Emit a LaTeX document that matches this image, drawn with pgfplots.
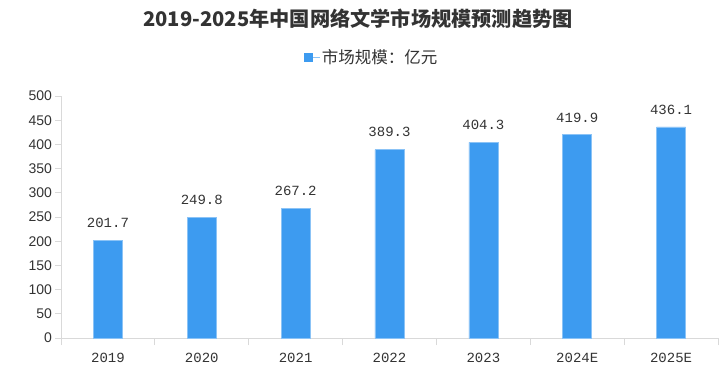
\documentclass[border=0pt]{standalone}
\usepackage{pgfplots}
\pgfplotsset{compat=1.18}
\usepackage{pgfplotstable}
\usepackage{fontspec}
\setmainfont{Noto Sans CJK SC}
\newfontfamily\monofont{Liberation Mono}
\newfontfamily\sansfont{Liberation Sans}
\definecolor{barblue}{HTML}{3D9BF0}
\definecolor{axgray}{HTML}{D9D9D9}
\definecolor{txt}{HTML}{333333}

\pgfplotstableread{
x val
0 201.7
1 249.8
2 267.2
3 389.3
4 404.3
5 419.9
6 436.1
}\datatable

\begin{document}
\begin{tikzpicture}
\useasboundingbox (-61pt,-38pt) rectangle (663pt,338pt);
\begin{axis}[
  at={(0,0)}, anchor=south west,
  scale only axis, width=657pt, height=242pt,
  xmin=-0.5, xmax=6.5, ymin=0, ymax=500,
  axis x line*=bottom, axis y line*=left,
  axis line style={draw=axgray, line width=0.8pt},
  xtick={0,...,6},
  xticklabels={2019,2020,2021,2022,2023,2024E,2025E},
  major x tick style={draw=none},
  minor xtick={-0.5,0.5,...,6.5},
  minor x tick style={draw=axgray, line width=0.8pt},
  minor tick length=7pt,
  ytick={0,50,...,500},
  y tick style={draw=axgray, line width=0.8pt},
  major tick length=5.5pt,
  tick align=outside,
  xtick pos=bottom, ytick pos=left,
  /pgf/number format/assume math mode=true,
  xticklabel style={font=\monofont\fontsize{14}{14}\selectfont, text=txt, yshift=-6pt},
  yticklabel style={font=\sansfont\fontsize{14}{14}\selectfont, text=txt},
  bar width=0.31,
  nodes near coords={\pgfmathprintnumber[fixed,fixed zerofill,precision=1]{\pgfplotspointmeta}},
  nodes near coords style={font=\monofont\fontsize{14}{14}\selectfont, text=txt, anchor=south, yshift=9pt},
  legend style={draw=none, at={(0.473,1.161)}, anchor=center, font=\fontsize{16.5}{16.5}\selectfont, text=txt,
    /tikz/every even column/.append style={column sep=0pt}},
  legend image code/.code={\path (0pt,0pt) -- (15pt,0pt); \fill[barblue] (0pt,-4pt) rectangle (8pt,4pt);},
  clip=false,
]
\addplot[ybar, fill=barblue, draw=barblue!60!white, line width=0.6pt] table[x=x,y=val] {\datatable};
\addlegendentry{市场规模：亿元}
\node[font=\bfseries\fontsize{20.2}{21}\selectfont, text=txt] at (rel axis cs:0.452,1.318) {2019-2025年中国网络文学市场规模预测趋势图};
\end{axis}
\end{tikzpicture}
\end{document}
